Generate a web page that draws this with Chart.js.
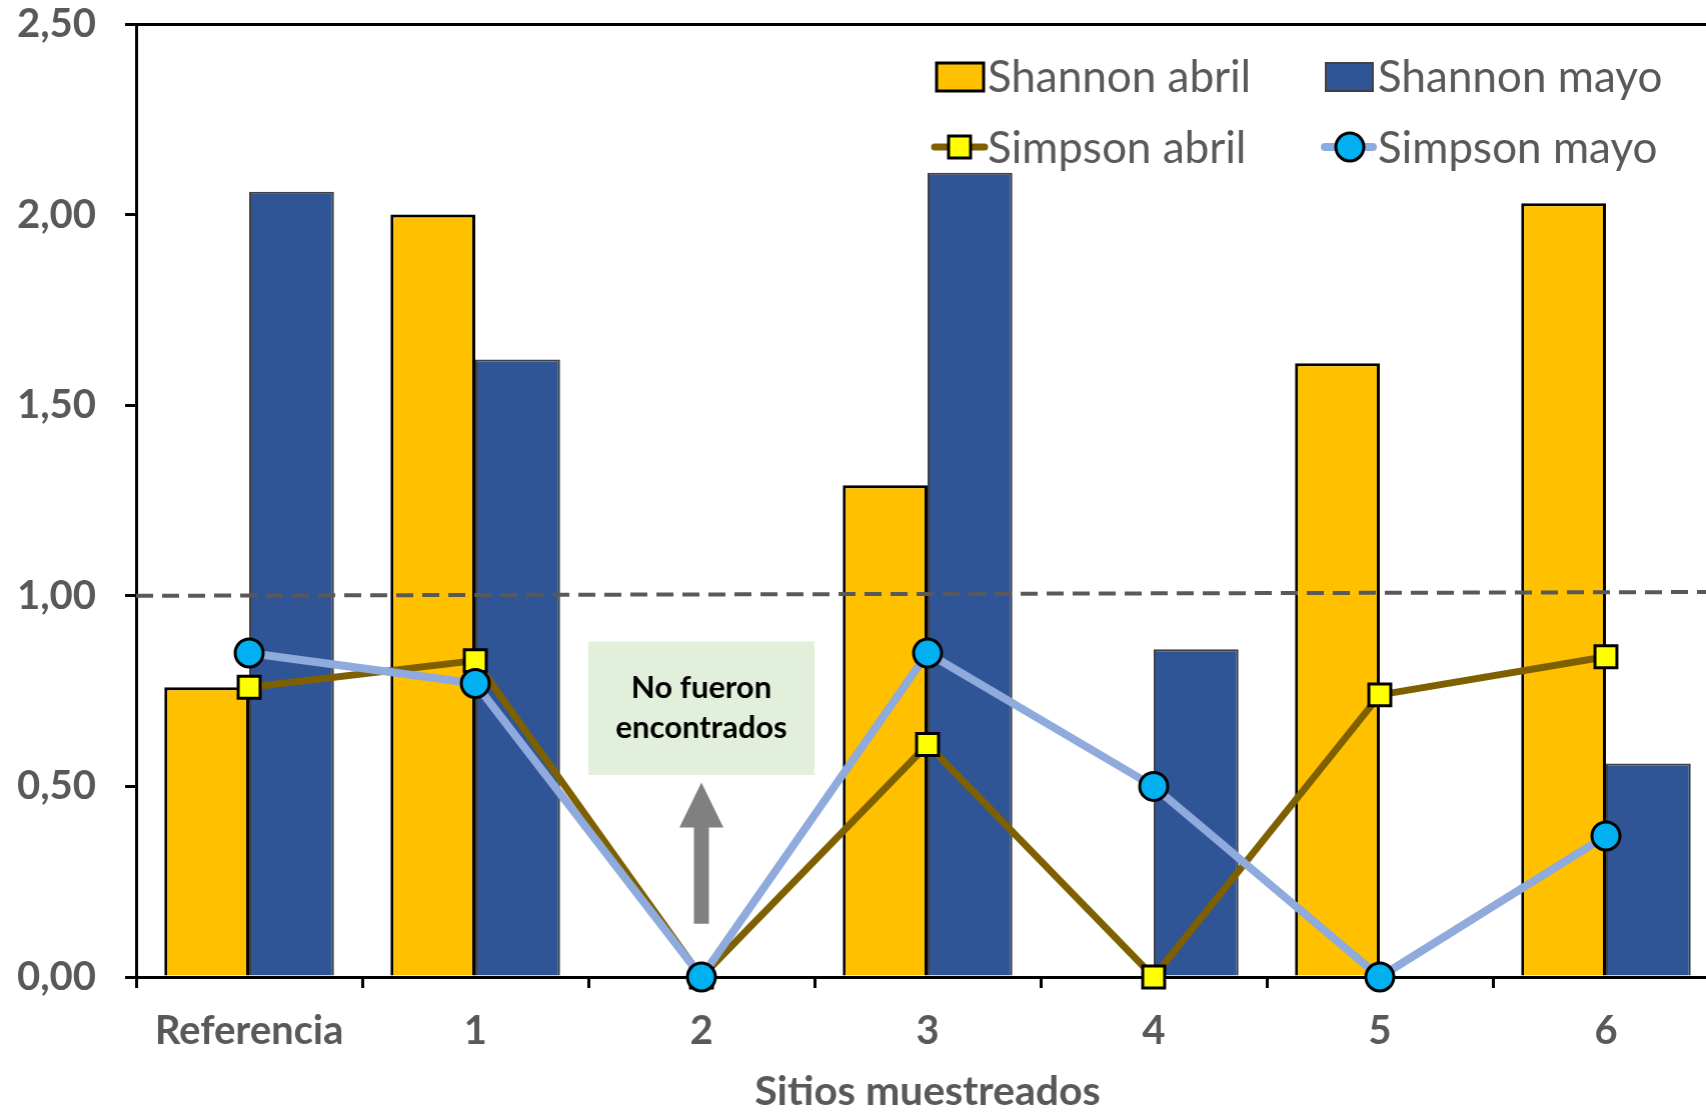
<!DOCTYPE html>
<html>
<head>
<meta charset="utf-8">
<script src="https://cdn.jsdelivr.net/npm/chart.js@4.4.1/dist/chart.umd.min.js"></script>
<style>
  html, body { margin: 0; padding: 0; background: #fff; overflow: hidden; }
  #wrap { position: relative; width: 1720px; height: 1112px; }
</style>
</head>
<body>
<div id="wrap"><canvas id="grafico"></canvas></div>
<script>
// Datos
const sitios = ['Referencia', '1', '2', '3', '4', '5', '6'];
const shannonAbril = [0.76, 2.00, 0, 1.29, 0, 1.61, 2.03];
const shannonMayo = [2.06, 1.62, 0, 2.11, 0.86, 0, 0.56];
const simpsonAbril = [0.76, 0.83, 0, 0.61, 0, 0.74, 0.84];
const simpsonMayo = [0.85, 0.77, 0, 0.85, 0.50, 0, 0.37];
const umbral = [1.00, 1.01]; // línea punteada (inicio, final)
const nota = ['No fueron', 'encontrados'];
const sitioNota = 2; // índice de la categoría "2"

const FUENTE = 'Lato, "Open Sans", sans-serif';
const GRIS = '#595959';
const BORDE_DERECHO = 1718; // el gráfico original queda cortado a la derecha

const fmt = v => v.toFixed(2).replace('.', ',');

// Línea punteada, recuadro, flecha y leyenda
const extras = {
  id: 'extras',
  beforeDatasetsDraw(chart) {
    const { ctx, scales: { x, y } } = chart;
    const paso = x.getPixelForValue(1) - x.getPixelForValue(0);
    const cx = x.getPixelForValue(sitioNota);

    // recuadro verde
    const top = y.getPixelForValue(0.88);
    const bot = y.getPixelForValue(0.53);
    ctx.save();
    ctx.fillStyle = '#E2EFDA';
    ctx.fillRect(cx - paso / 2, top, paso, bot - top);
    ctx.fillStyle = '#000';
    ctx.font = 'bold 31px ' + FUENTE;
    ctx.textAlign = 'center';
    ctx.textBaseline = 'middle';
    const mid = (top + bot) / 2;
    ctx.fillText(nota[0], cx, mid - 20);
    ctx.fillText(nota[1], cx, mid + 20);

    // flecha gris
    const punta = y.getPixelForValue(0.51);
    const base = y.getPixelForValue(0.14);
    ctx.fillStyle = '#808080';
    ctx.beginPath();
    ctx.moveTo(cx, punta);
    ctx.lineTo(cx + 22, punta + 45);
    ctx.lineTo(cx + 7.5, punta + 45);
    ctx.lineTo(cx + 7.5, base);
    ctx.lineTo(cx - 7.5, base);
    ctx.lineTo(cx - 7.5, punta + 45);
    ctx.lineTo(cx - 22, punta + 45);
    ctx.closePath();
    ctx.fill();
    ctx.restore();
  },
  afterDatasetsDraw(chart) {
    const { ctx, chartArea, scales: { y } } = chart;
    ctx.save();
    ctx.strokeStyle = GRIS;
    ctx.lineWidth = 4;
    ctx.setLineDash([17, 9]);
    ctx.beginPath();
    ctx.moveTo(chartArea.left, y.getPixelForValue(umbral[0]));
    ctx.lineTo(chartArea.right, y.getPixelForValue(umbral[1]));
    ctx.stroke();
    ctx.restore();
  },
  afterDraw(chart) {
    const { ctx } = chart;
    const ds = chart.data.datasets;
    ctx.save();
    ctx.font = '44px ' + FUENTE;
    ctx.textAlign = 'left';
    ctx.textBaseline = 'middle';

    // fila 1: barras
    ctx.fillStyle = ds[0].backgroundColor;
    ctx.fillRect(936, 63, 47, 28);
    ctx.strokeStyle = '#000'; ctx.lineWidth = 3;
    ctx.strokeRect(936, 63, 47, 28);
    ctx.fillStyle = ds[1].backgroundColor;
    ctx.fillRect(1325, 63, 47, 28);
    ctx.strokeStyle = '#404040'; ctx.lineWidth = 2;
    ctx.strokeRect(1325, 63, 47, 28);

    ctx.fillStyle = GRIS;
    ctx.fillText(ds[0].label, 987, 78);
    ctx.fillText(ds[1].label, 1377, 78);

    // fila 2: líneas
    ctx.lineCap = 'round';
    ctx.strokeStyle = ds[2].borderColor; ctx.lineWidth = 7;
    ctx.beginPath(); ctx.moveTo(934, 147); ctx.lineTo(984, 147); ctx.stroke();
    ctx.fillStyle = ds[2].pointBackgroundColor;
    ctx.fillRect(948, 136, 22, 22);
    ctx.strokeStyle = '#000'; ctx.lineWidth = 3;
    ctx.strokeRect(948, 136, 22, 22);

    ctx.strokeStyle = ds[3].borderColor; ctx.lineWidth = 8;
    ctx.beginPath(); ctx.moveTo(1324, 147); ctx.lineTo(1372, 147); ctx.stroke();
    ctx.fillStyle = ds[3].pointBackgroundColor;
    ctx.beginPath(); ctx.arc(1349, 147, 14, 0, Math.PI * 2); ctx.fill();
    ctx.strokeStyle = '#000'; ctx.lineWidth = 3; ctx.stroke();

    ctx.fillStyle = GRIS;
    ctx.fillText(ds[2].label, 987, 149);
    ctx.fillText(ds[3].label, 1377, 149);
    ctx.restore();
  }
};

const ctx = document.getElementById('grafico').getContext('2d');
const chart = new Chart(ctx, {
  data: {
    labels: sitios,
    datasets: [
      {
        type: 'bar', label: 'Shannon abril', data: shannonAbril,
        backgroundColor: '#FFC000', borderColor: '#000', borderWidth: 3,
        categoryPercentage: 0.75, barPercentage: 1, order: 2
      },
      {
        type: 'bar', label: 'Shannon mayo', data: shannonMayo,
        backgroundColor: '#2F5597', borderColor: '#404040', borderWidth: 2,
        categoryPercentage: 0.75, barPercentage: 1, order: 2
      },
      {
        type: 'line', label: 'Simpson abril', data: simpsonAbril,
        borderColor: '#7F6000', borderWidth: 7,
        pointStyle: 'rect', pointRadius: 15.5, pointHoverRadius: 15.5,
        pointBackgroundColor: '#FFFF00', pointBorderColor: '#000', pointBorderWidth: 3,
        tension: 0, clip: false, order: 1
      },
      {
        type: 'line', label: 'Simpson mayo', data: simpsonMayo,
        borderColor: '#8FAADC', borderWidth: 8,
        pointStyle: 'circle', pointRadius: 14, pointHoverRadius: 14,
        pointBackgroundColor: '#00B0F0', pointBorderColor: '#000', pointBorderWidth: 3,
        tension: 0, clip: false, order: 0
      }
    ]
  },
  options: {
    responsive: true,
    maintainAspectRatio: false,
    animation: false,
    layout: { padding: { top: 24, left: 0, bottom: 0, right: 0 } },
    plugins: { legend: { display: false }, tooltip: { enabled: false } },
    scales: {
      x: {
        offset: true,
        grid: { display: true, drawOnChartArea: false, offset: true, tickLength: 11, tickColor: '#000', tickWidth: 3, lineWidth: 3 },
        border: { display: true, color: '#000', width: 3 },
        ticks: { color: GRIS, font: { family: FUENTE, size: 40, weight: 'bold' }, padding: 19, maxRotation: 0 },
        title: {
          display: true, text: 'Sitios muestreados', color: GRIS,
          font: { family: FUENTE, size: 41, weight: 'bold', lineHeight: 1 },
          padding: { top: 0, bottom: 0 }
        },
        afterFit(scale) {
          scale.height = 135;
          scale.paddingLeft = 0;
          scale.paddingRight = 0;
        }
      },
      y: {
        min: 0, max: 2.5,
        ticks: { stepSize: 0.5, color: GRIS, font: { family: FUENTE, size: 40, weight: 'bold' }, padding: 29, callback: v => fmt(v) },
        grid: {
          drawOnChartArea: true, tickLength: 11, tickColor: '#000', tickWidth: 3, lineWidth: 3,
          color: c => (c.tick && c.tick.value === 2.5) ? '#000' : 'rgba(0,0,0,0)'
        },
        border: { display: true, color: '#000', width: 3 },
        afterFit(scale) {
          scale.width = 136;
          scale.paddingTop = 0;
          scale.paddingBottom = 0;
        }
      }
    }
  },
  plugins: [extras]
});

// El área del gráfico debe terminar fuera de la ventana, como en el original
const wrap = document.getElementById('wrap');
const falta = BORDE_DERECHO - chart.chartArea.right;
if (Math.abs(falta) > 0.5) {
  wrap.style.width = (wrap.offsetWidth + falta) + 'px';
  chart.resize();
}
</script>
</body>
</html>
